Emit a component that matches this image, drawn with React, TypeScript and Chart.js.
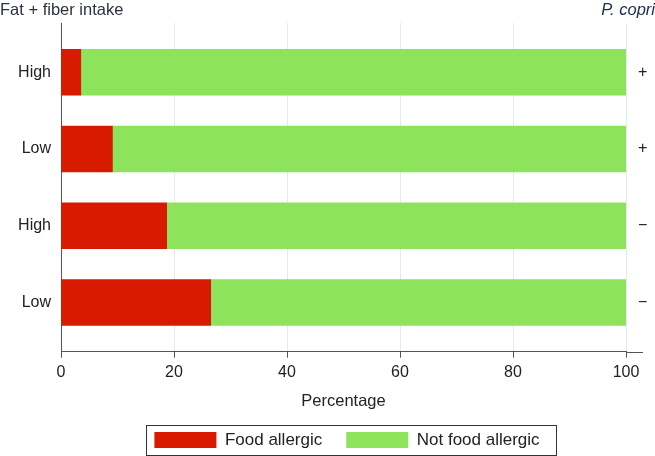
import React, { useEffect, useRef } from "react";
import { Chart, registerables } from "chart.js";

Chart.register(...registerables);

const categories = ["High", "Low", "High", "Low"];
const copriLabels = ["+", "+", "\u2212", "\u2212"];
const positions = [3, 2, 1, 0];
const foodAllergic = [3.5, 9.1, 18.7, 26.5];
const notFoodAllergic = [96.5, 90.9, 81.3, 73.5];
const xTicks = [0, 20, 40, 60, 80, 100];

const FONT = '"Liberation Sans", Arial, sans-serif';
const TEXT = "#222222";
const AXIS = "#555555";

const labelFor = (arr: string[]) => (v: any) => {
  const i = positions.indexOf(Number(v));
  return i >= 0 ? arr[i] : "";
};

const headerPlugin = {
  id: "header",
  afterLayout(chart: any) {
    const lg = chart.legend;
    if (!lg) return;
    const dx = 3.5;
    lg.left += dx;
    lg.right += dx;
    (lg.legendHitBoxes || []).forEach((h: any) => {
      h.left += dx;
    });
  },
  afterDraw(chart: any) {
    const ctx = chart.ctx;
    const ca = chart.chartArea;
    ctx.save();
    ctx.textBaseline = "middle";
    ctx.font = `16.5px ${FONT}`;
    ctx.fillStyle = "#2b3240";
    ctx.textAlign = "left";
    ctx.fillText("Fat + fiber intake", 0, 10);
    ctx.font = `italic 16.5px ${FONT}`;
    ctx.fillStyle = "#22304d";
    ctx.textAlign = "right";
    ctx.fillText("P. copri", 655, 10);
    ctx.strokeStyle = AXIS;
    ctx.lineWidth = 1;
    ctx.beginPath();
    const y = Math.round(ca.bottom) + 0.5;
    ctx.moveTo(ca.right, y);
    ctx.lineTo(ca.right + 17, y);
    ctx.stroke();
    const hb = chart.legend && chart.legend.legendHitBoxes;
    if (hb && hb.length) {
      const first = hb[0];
      const last = hb[hb.length - 1];
      const cy = first.top + first.height / 2;
      const left = Math.round(first.left - 8) + 0.5;
      const right = Math.round(last.left + last.width + 16) + 0.5;
      const top = Math.round(cy - 15) + 0.5;
      const bottom = Math.round(cy + 15) + 0.5;
      ctx.strokeStyle = "#333333";
      ctx.strokeRect(left, top, right - left, bottom - top);
    }
    ctx.restore();
  },
};

export default function App() {
  const ref = useRef<HTMLCanvasElement | null>(null);

  useEffect(() => {
    if (!ref.current) return;
    const setTicks = (scale: any) => {
      scale.ticks = positions.map((v) => ({ value: v }));
    };
    const chart = new Chart(ref.current, {
      type: "bar",
      data: {
        datasets: [
          {
            label: "Food allergic",
            data: foodAllergic.map((v, i) => ({ x: v, y: positions[i] })),
            backgroundColor: "#d71a00",
            borderWidth: 0,
            barThickness: 46,
          },
          {
            label: "Not food allergic",
            data: notFoodAllergic.map((v, i) => ({ x: v, y: positions[i] })),
            backgroundColor: "#8ee35c",
            borderWidth: 0,
            barThickness: 46,
          },
        ],
      },
      options: {
        indexAxis: "y",
        responsive: false,
        animation: false,
        layout: { padding: { top: 23, left: 0, right: 0, bottom: 0 } },
        plugins: {
          tooltip: { enabled: false },
          title: { display: false },
          legend: {
            display: true,
            position: "bottom",
            fullSize: false,
            maxHeight: 48.5,
            labels: {
              boxWidth: 62,
              boxHeight: 16,
              padding: 24,
              color: TEXT,
              font: { family: FONT, size: 17, lineHeight: 1 },
            },
          },
        },
        scales: {
          x: {
            type: "linear",
            stacked: true,
            min: 0,
            max: 100,
            afterBuildTicks: (scale: any) => {
              scale.ticks = xTicks.map((v) => ({ value: v }));
            },
            afterFit: (scale: any) => {
              scale.height = 55.8;
            },
            grid: {
              color: "#e3eaee",
              tickColor: AXIS,
              tickLength: 6,
              drawTicks: true,
            },
            border: { display: true, color: AXIS, width: 1 },
            ticks: {
              color: TEXT,
              padding: 5,
              font: { family: FONT, size: 16 },
              maxRotation: 0,
            },
            title: {
              display: true,
              text: "Percentage",
              color: TEXT,
              font: { family: FONT, size: 16.5 },
              padding: { top: 0, bottom: -4 },
            },
          },
          y: {
            type: "linear",
            position: "left",
            stacked: true,
            offset: false,
            bounds: "data",
            min: -0.641,
            max: 3.641,
            afterBuildTicks: setTicks,
            afterFit: (scale: any) => {
              scale.width = 61;
            },
            grid: { display: false, drawTicks: false, offset: false },
            border: { display: true, color: AXIS, width: 1 },
            ticks: {
              color: TEXT,
              padding: 10,
              font: { family: FONT, size: 16 },
              callback: labelFor(categories),
            },
          },
          yR: {
            type: "linear",
            position: "right",
            offset: false,
            bounds: "data",
            min: -0.641,
            max: 3.641,
            afterBuildTicks: setTicks,
            afterFit: (scale: any) => {
              scale.width = 29;
            },
            grid: { display: false, drawTicks: false, offset: false },
            border: { display: false },
            ticks: {
              color: TEXT,
              padding: 12,
              font: { family: FONT, size: 16 },
              callback: labelFor(copriLabels),
            },
          },
        },
      },
      plugins: [headerPlugin],
    } as any);
    return () => chart.destroy();
  }, []);

  return (
    <div style={{ position: "fixed", left: 0, top: 0, width: 655, height: 456, background: "#fff" }}>
      <canvas ref={ref} width={655} height={456} />
    </div>
  );
}
